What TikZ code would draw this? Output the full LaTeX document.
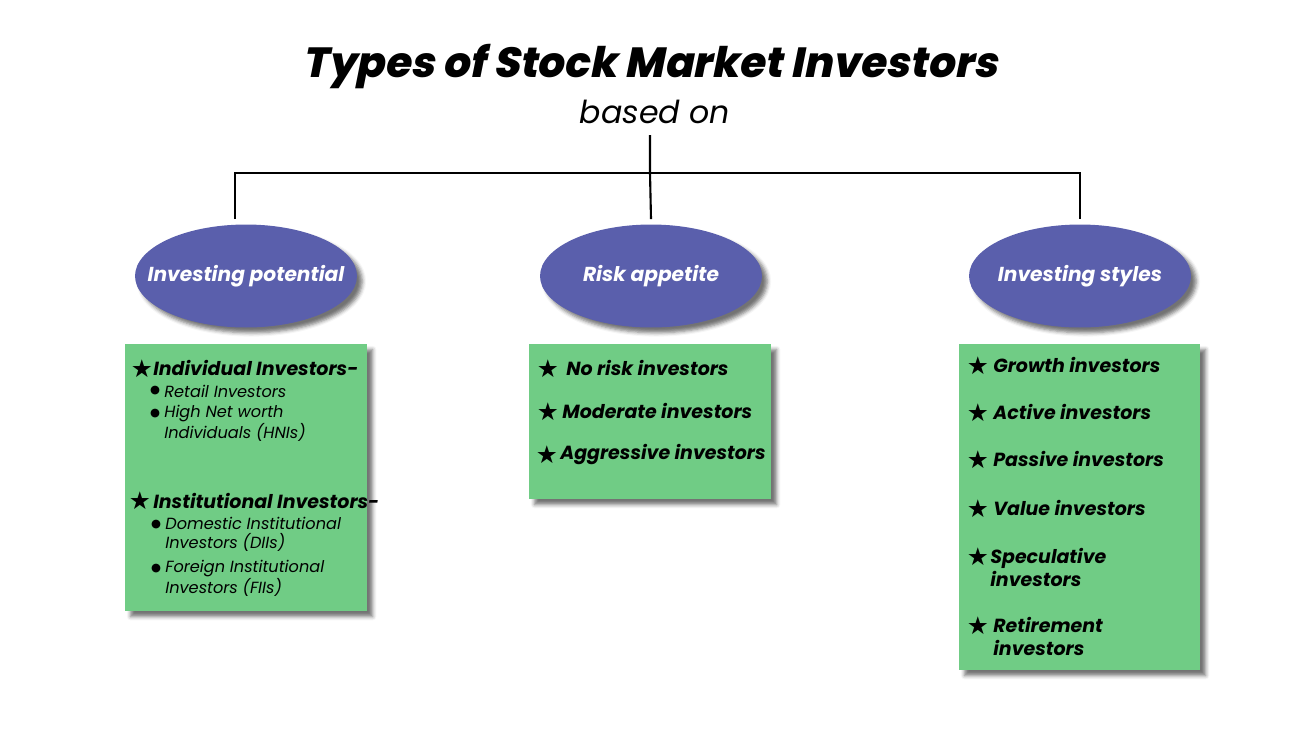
\documentclass[tikz,border=0pt]{standalone}
\usepackage{fontspec}
\setmainfont{Poppins}
\IfFontExistsTF{Poppins ExtraBold}
  {\newfontfamily\titlefont{Poppins ExtraBold}[FakeSlant = 0.2]}
  {\newfontfamily\titlefont{Poppins}[UprightFont = * Bold Italic]}
\newfontfamily\symfont{DejaVu Sans}
\usetikzlibrary{shapes.geometric,shadows.blur}
\definecolor{ovalblue}{RGB}{90,95,172}
\definecolor{boxgreen}{RGB}{112,204,133}
\newcommand\starmark{{\symfont\fontsize{14}{14}\selectfont ★}}
\newcommand\dotmark{{\symfont\fontsize{6.5}{8}\selectfont ●}}
\begin{document}
\begin{tikzpicture}[
        x = 0.02cm, y = -0.02cm,
        link/.style  = {line width = 1.2pt},
        oval/.style  = {ellipse, fill = ovalblue, minimum width = 4.44cm, minimum height = 2.06cm, inner sep = 0pt,
                        blur shadow = {shadow xshift = 3pt, shadow yshift = -3pt, shadow opacity = 55},
                        label = {[text = white, font = \bfseries\itshape\fontsize{11.5}{13}\selectfont]center:#1}},
        listbox/.style = {rectangle, fill = boxgreen, anchor = north west, inner sep = 0pt,
                        blur shadow = {shadow xshift = 3pt, shadow yshift = -3pt, shadow opacity = 55}},
        head/.style  = {anchor = west, inner sep = 0pt, align = left, font = \bfseries\itshape\fontsize{10.8}{13}\selectfont},
        sub/.style   = {anchor = west, inner sep = 0pt, align = left, font = \itshape\fontsize{9.2}{10.8}\selectfont},
        symb/.style  = {anchor = center, inner sep = 0pt}
      ]
      \useasboundingbox (0, 0) rectangle (1300, 731);
      % titles
      \node (title) at (650, 67)  {\titlefont\fontsize{24}{28}\selectfont Types of Stock Market Investors};
      \node (based) at (655, 112) {\itshape\fontsize{18}{22}\selectfont based on};
      % categories
      \node[oval = {Investing potential}] (pot)  at (246, 276)  {};
      \node[oval = {Risk appetite}]       (risk) at (651, 276)  {};
      \node[oval = {Investing styles}]    (styl) at (1080, 276) {};
      % the tree
      \coordinate (bar) at (650, 173);
      \draw[link] (650, 135) -- (bar) -- ([yshift = 0.1cm]risk.north);
      \draw[link] ([xshift = -0.22cm, yshift = 0.1cm]pot.north) |- (bar) -| ([yshift = 0.1cm]styl.north);
      % boxes
      \node[listbox, minimum width = 4.84cm, minimum height = 5.34cm] (potbox)  at (125, 344) {};
      \node[listbox, minimum width = 4.84cm, minimum height = 3.10cm] (riskbox) at (529, 344) {};
      \node[listbox, minimum width = 4.82cm, minimum height = 6.52cm] (stylbox) at (959, 344) {};
      % investing potential
      \node[symb] (p1s) at (142, 369) {\starmark};
      \node[head] (p1)  at (153, 368) {Individual Investors-};
      \node[symb] (p1a) at (155, 391) {\dotmark};
      \node[sub]  (p1at) at (164, 391) {Retail Investors};
      \node[symb] (p1b) at (155, 414) {\dotmark};
      \node[sub]  (p1bt) at (164, 423.5) {High Net worth\\Individuals (HNIs)};
      \node[symb] (p2s) at (140, 501) {\starmark};
      \node[head] (p2)  at (153, 501) {Institutional Investors-};
      \node[symb] (p2a) at (156, 525) {\dotmark};
      \node[sub]  (p2at) at (165, 534.5) {Domestic Institutional\\Investors (DIIs)};
      \node[symb] (p2b) at (156, 569) {\dotmark};
      \node[sub]  (p2bt) at (165, 578.5) {Foreign Institutional\\Investors (FIIs)};
      % risk appetite
      \node[symb] (r1s) at (548, 369) {\starmark};
      \node[head] (r1)  at (566, 368) {No risk investors};
      \node[symb] (r2s) at (548, 412) {\starmark};
      \node[head] (r2)  at (562, 411) {Moderate investors};
      \node[symb] (r3s) at (547, 455) {\starmark};
      \node[head] (r3)  at (560, 454) {Aggressive investors};
      % investing styles
      \node[symb] (s1s) at (978, 366) {\starmark};
      \node[head] (s1)  at (993, 365) {Growth investors};
      \node[symb] (s2s) at (978, 413) {\starmark};
      \node[head] (s2)  at (993, 412) {Active investors};
      \node[symb] (s3s) at (978, 460) {\starmark};
      \node[head] (s3)  at (993, 459) {Passive investors};
      \node[symb] (s4s) at (978, 509) {\starmark};
      \node[head] (s4)  at (993, 508) {Value investors};
      \node[symb] (s5s) at (978, 557) {\starmark};
      \node[head] (s5)  at (990, 567.5) {Speculative\\investors};
      \node[symb] (s6s) at (978, 626) {\starmark};
      \node[head] (s6)  at (993, 636.5) {Retirement\\investors};
    \end{tikzpicture}
\end{document}
